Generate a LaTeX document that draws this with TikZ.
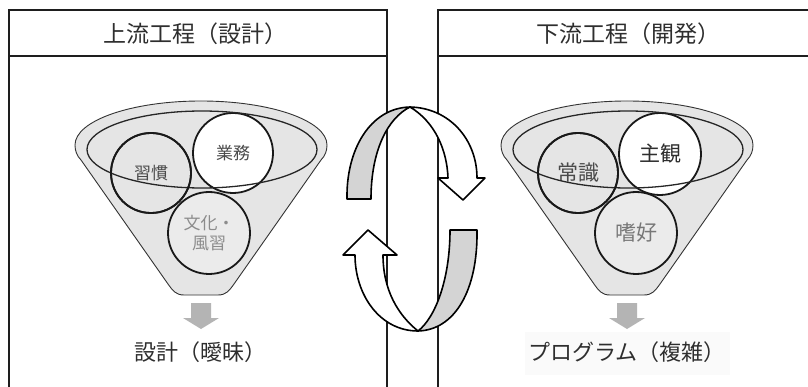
\documentclass[tikz,border=0pt]{standalone}
\usepackage{fontspec}
\newfontfamily\jp{Noto Sans CJK JP}
\definecolor{linec}{HTML}{1E1E1E}
\definecolor{funnelfill}{HTML}{E5E5E5}
\definecolor{bubblefill}{HTML}{EBEBEB}
\definecolor{ringgray}{HTML}{D4D4D4}
\definecolor{arrowgray}{HTML}{B4B4B4}
\definecolor{txtdark}{HTML}{2E2E2E}
\definecolor{txtmid}{HTML}{4A4A4A}
\definecolor{txtlight}{HTML}{8C8C8C}
\definecolor{txtgrey}{HTML}{777777}
\definecolor{faintbg}{HTML}{FAFAFA}
\newcommand{\funnelpath}{(75,145) .. controls (75,120.7) and (131.4,101) .. (201,101) .. controls (270.6,101) and (327,120.7) .. (327,145) .. controls (327,151) and (325,156) .. (321,160) -- (234,284) .. controls (229,291) and (226,295) .. (218,295) -- (184,295) .. controls (176,295) and (173,291) .. (168,284) -- (81,160) .. controls (77,156) and (75,151) .. (75,145) -- cycle}
\begin{document}
\begin{tikzpicture}[x=1pt,y=-1pt,
  boxline/.style={draw=linec,line width=1.8pt},
  title/.style={font=\jp\fontsize{23}{23}\selectfont,text=txtdark,inner sep=0pt},
  funnelbody/.style={fill=funnelfill,draw=black!80,line width=0.9pt},
  rimline/.style={draw=black!85,line width=1.3pt},
  bubble/.style={circle,draw=black!90,line width=1.8pt,minimum size=80pt,inner sep=0pt,align=center},
  smalllbl/.style={font=\jp\fontsize{17}{20}\selectfont},
  biglbl/.style={font=\jp\fontsize{21}{23}\selectfont},
  outlbl/.style={font=\jp\fontsize{22}{22}\selectfont,text=txtdark,inner sep=0pt},
  downarrow/.style={fill=arrowgray},
  ringband/.style={draw=black,line width=1.6pt,line join=round}]
\clip (0,0) rectangle (808,387);
\fill[white] (0,0) rectangle (808,387);

% panels
\draw[boxline] (9,395) -- (9,10) -- (387,10) -- (387,395);
\draw[boxline] (9,56) -- (387,56);
\draw[boxline] (438,395) -- (438,10) -- (815,10);
\draw[boxline] (438,56) -- (815,56);
\node[title] (t1) at (195,34) {上流工程（設計）};
\node[title] (t2) at (628,34) {下流工程（開発）};

% left funnel
\begin{scope}
  \filldraw[funnelbody] \funnelpath;
  \fill[funnelfill] (202,149.5) ellipse [x radius=115, y radius=38.5];
  \node[bubble,smalllbl,text=txtmid] (c1) at (151,173) {習慣};
  \node[bubble,smalllbl,text=txtmid,fill=white] (c2) at (233,153) {業務};
  \node[bubble,smalllbl,text=txtlight,fill=bubblefill,minimum size=82pt] (c3) at (209,233) {文化・\\風習};
  \draw[rimline] (202,149.5) ellipse [x radius=115, y radius=38.5];
  \draw[bubble,draw=black!90] (c1.center) circle [radius=40];
  \fill[downarrow] (191,303) -- (211,303) -- (211,318) -- (219,318) -- (201,329) -- (183,318) -- (191,318) -- cycle;
\end{scope}
\node[outlbl] (o1) at (200,352) {設計（曖昧）};

% right funnel
\begin{scope}[shift={(426,0)}]
  \filldraw[funnelbody] \funnelpath;
  \fill[funnelfill] (202,149.5) ellipse [x radius=115, y radius=38.5];
  \node[bubble,biglbl,text=txtmid] (d1) at (152,173) {常識};
  \node[bubble,biglbl,text=txtdark,fill=white,minimum size=82pt] (d2) at (234,154) {主観};
  \node[bubble,biglbl,text=txtgrey,fill=bubblefill,minimum size=82pt] (d3) at (210,233) {嗜好};
  \draw[rimline] (202,149.5) ellipse [x radius=115, y radius=38.5];
  \draw[bubble,draw=black!90] (d1.center) circle [radius=40];
  \fill[downarrow] (191,303) -- (211,303) -- (211,318) -- (219,318) -- (201,329) -- (183,318) -- (191,318) -- cycle;
\end{scope}
\fill[faintbg] (525,332) rectangle (730,375);
\node[outlbl] (o2) at (627,352) {プログラム（複雑）};

% cycle arrows
\filldraw[ringband,fill=white] (410,107) .. controls (450,108) and (477,140) .. (477,178) -- (485,178) -- (463,200) -- (438,178) -- (448,178) .. controls (447,150) and (435,122) .. (410,107) -- cycle;
\filldraw[ringband,fill=ringgray] (347,199) .. controls (346,150) and (370,108) .. (410,107) .. controls (388,118) and (371,150) .. (371,199) -- cycle;
\filldraw[ringband,fill=white] (418,331) .. controls (380,331) and (355,295) .. (355,255) -- (343,255) -- (368,230) -- (397,255) -- (383,255) .. controls (383,290) and (398,315) .. (418,331) -- cycle;
\filldraw[ringband,fill=ringgray] (450,230) -- (477,230) .. controls (478,290) and (455,330) .. (418,331) .. controls (435,318) and (450,280) .. (450,230) -- cycle;
\end{tikzpicture}
\end{document}
